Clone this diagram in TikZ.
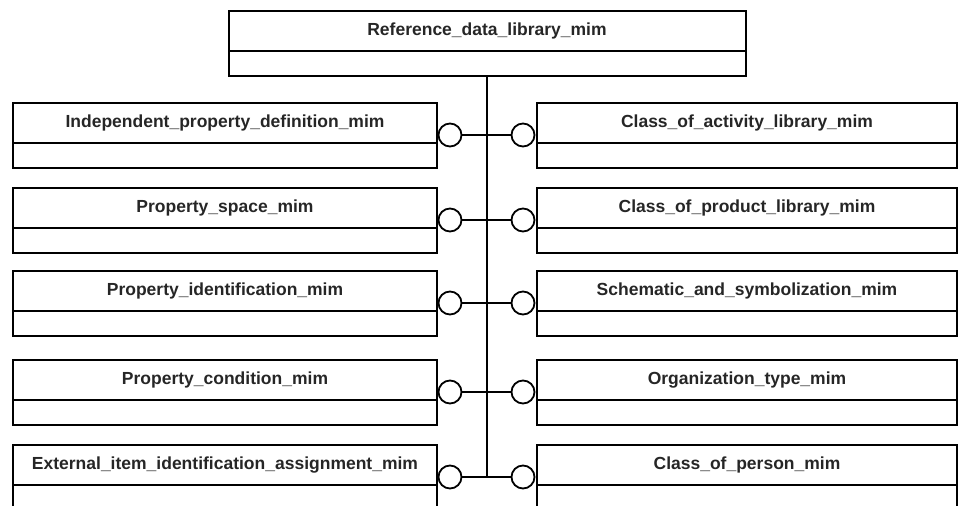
\documentclass[tikz,border=0pt]{standalone}
\usepackage{fontspec}
\setmainfont{Liberation Sans}
\usetikzlibrary{positioning}

\tikzset{
  mimname/.style={draw, line width=2pt, outer sep=0pt, inner sep=0pt, minimum height=40pt,
    font=\bfseries\fontsize{17.5}{20}\selectfont, text=black!85},
  mimbody/.style={draw, line width=2pt, outer sep=0pt, inner sep=0pt, minimum height=25pt},
  port/.style={circle, draw, line width=1.8pt, outer sep=0pt, fill=white, minimum size=23pt, inner sep=0pt}
}

\begin{document}
\begin{tikzpicture}[x=1pt, y=-1pt, line width=2pt]
\clip (0,0) rectangle (959,506);

% top module
\node[mimname, minimum width=517pt] (rdl) at (487,31) {Reference\_data\_library\_mim};
\node[mimbody, minimum width=517pt, below=0pt of rdl] (rdl-b) {};

% left column
\foreach \n/\y/\txt in {ipd/123/Independent\_property\_definition\_mim,
                        psp/208/Property\_space\_mim,
                        pid/291/Property\_identification\_mim,
                        pco/380/Property\_condition\_mim,
                        eia/465/External\_item\_identification\_assignment\_mim}
{
  \node[mimname, minimum width=424pt] (\n) at (225,\y) {\txt};
  \node[mimbody, minimum width=424pt, below=0pt of \n] (\n-b) {};
  \node[port] (\n-p) at (450,\y+12) {};
  \draw (\n-p.east) -- (\n-p -| rdl-b.south);
}

% right column
\foreach \n/\y/\txt in {coa/123/Class\_of\_activity\_library\_mim,
                        cpr/208/Class\_of\_product\_library\_mim,
                        sas/291/Schematic\_and\_symbolization\_mim,
                        ort/380/Organization\_type\_mim,
                        cpe/465/Class\_of\_person\_mim}
{
  \node[mimname, minimum width=420pt] (\n) at (747,\y) {\txt};
  \node[mimbody, minimum width=420pt, below=0pt of \n] (\n-b) {};
  \node[port] (\n-p) at (523,\y+12) {};
  \draw (\n-p.west) -- (\n-p -| rdl-b.south);
}

% trunk
\draw (rdl-b.south) -- (rdl-b.south |- eia-p);
\end{tikzpicture}
\end{document}
